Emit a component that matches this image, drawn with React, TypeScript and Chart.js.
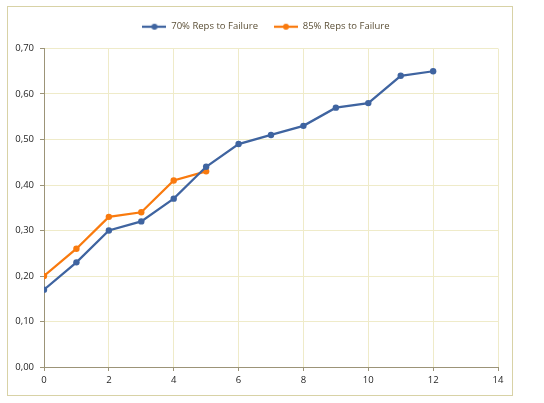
import { useEffect, useRef } from 'react';
import { Chart, registerables } from 'chart.js';

Chart.register(...registerables);

const xValues = [0, 1, 2, 3, 4, 5, 6, 7, 8, 9, 10, 11, 12];
const reps70 = [0.17, 0.23, 0.3, 0.32, 0.37, 0.44, 0.49, 0.51, 0.53, 0.57, 0.58, 0.64, 0.65];
const reps85 = [0.2, 0.26, 0.33, 0.34, 0.41, 0.43];
const seriesNames = ['70% Reps to Failure', '85% Reps to Failure'];
const seriesColors = ['#3f64a0', '#f97a0e'];

const FONT = "'Open Sans', 'Liberation Sans', sans-serif";

// little "line with a dot" marker, like Excel's legend keys
function legendKey(color: string) {
  const c = document.createElement('canvas');
  const r = window.devicePixelRatio || 1;
  c.width = 24 * r;
  c.height = 8 * r;
  c.style.width = '24px';
  c.style.height = '8px';
  const ctx = c.getContext('2d')!;
  ctx.scale(r, r);
  ctx.strokeStyle = color;
  ctx.lineWidth = 2.25;
  ctx.beginPath();
  ctx.moveTo(0, 4);
  ctx.lineTo(24, 4);
  ctx.stroke();
  ctx.fillStyle = color;
  ctx.beginPath();
  ctx.arc(12, 4, 3, 0, Math.PI * 2);
  ctx.fill();
  return c;
}

// frame round the whole chart + nudges to the legend box
const framePlugin = {
  id: 'frame',
  beforeLayout(chart: any) {
    const legend = chart.legend;
    if (legend && !legend._patched) {
      const fit = legend.fit;
      legend.fit = function () {
        fit.call(this);
        this.height += 7; // more room between legend and plot
      };
      legend._patched = true;
    }
  },
  afterLayout(chart: any) {
    // Excel centres the legend on the whole frame, not the plot
    if (chart.legend) {
      chart.legend.left += 13;
      chart.legend.right += 13;
    }
  },
  beforeDraw(chart: any) {
    const ctx = chart.ctx;
    ctx.save();
    ctx.fillStyle = '#fff';
    ctx.fillRect(0, 0, chart.width, chart.height);
    ctx.strokeStyle = '#d8d2a6';
    ctx.lineWidth = 1;
    ctx.strokeRect(7.5, 6.5, 505, 389);
    ctx.restore();
  },
};

export default function App() {
  const canvasRef = useRef<HTMLCanvasElement>(null);

  useEffect(() => {
    document.body.style.margin = '0';
    if (!canvasRef.current) return;
    const keys = seriesColors.map(legendKey);
    const chart = new Chart(canvasRef.current, {
      type: 'line',
      data: {
        datasets: [
          {
            label: seriesNames[0],
            data: reps70.map((y, i) => ({ x: xValues[i], y })),
            borderColor: seriesColors[0],
            backgroundColor: seriesColors[0],
            borderWidth: 2.25,
            pointRadius: 3.2,
            pointBorderWidth: 0,
            pointHoverRadius: 3.2,
          },
          {
            label: seriesNames[1],
            data: reps85.map((y, i) => ({ x: xValues[i], y })),
            borderColor: seriesColors[1],
            backgroundColor: seriesColors[1],
            borderWidth: 2.25,
            pointRadius: 3.2,
            pointBorderWidth: 0,
            pointHoverRadius: 3.2,
          },
        ],
      },
      options: {
        animation: false,
        responsive: true,
        maintainAspectRatio: false,
        layout: { padding: { top: 6, right: 46, left: 8, bottom: 7 } },
        plugins: {
          tooltip: { enabled: false },
          legend: {
            position: 'top',
            labels: {
              usePointStyle: true,
              pointStyleWidth: 24,
              generateLabels: () =>
                seriesNames.map((text, i) => ({
                  text,
                  pointStyle: keys[i] as any,
                  fillStyle: seriesColors[i],
                  strokeStyle: seriesColors[i],
                  lineWidth: 0,
                  datasetIndex: i,
                  hidden: false,
                  fontColor: '#5b4f36',
                })),
              font: { family: FONT, size: 9.5 },
              color: '#5b4f36',
              padding: 16,
              boxWidth: 24,
            },
          },
        },
        scales: {
          x: {
            type: 'linear',
            min: 0,
            max: 14,
            ticks: {
              stepSize: 2,
              color: '#1e1e1e',
              font: { family: FONT, size: 9.5 },
              padding: 4,
            },
            grid: { color: '#efebc9', tickColor: '#9c9478', tickLength: 4 },
            border: { color: '#9c9478', width: 1 },
            afterFit: (s: any) => {
              s.height = 29;
            },
          },
          y: {
            min: 0,
            max: 0.7,
            ticks: {
              stepSize: 0.1,
              color: '#1e1e1e',
              font: { family: FONT, size: 9.5 },
              padding: 6,
              callback: (v: any) => Number(v).toFixed(2).replace('.', ','),
            },
            grid: { color: '#efebc9', tickColor: '#9c9478', tickLength: 4 },
            border: { color: '#9c9478', width: 1 },
            afterFit: (s: any) => {
              s.width = 36;
            },
          },
        },
      },
      plugins: [framePlugin],
    });
    return () => chart.destroy();
  }, []);

  return (
    <div style={{ position: 'relative', width: 544, height: 403 }}>
      <canvas ref={canvasRef} style={{ display: 'block' }}></canvas>
    </div>
  );
}
